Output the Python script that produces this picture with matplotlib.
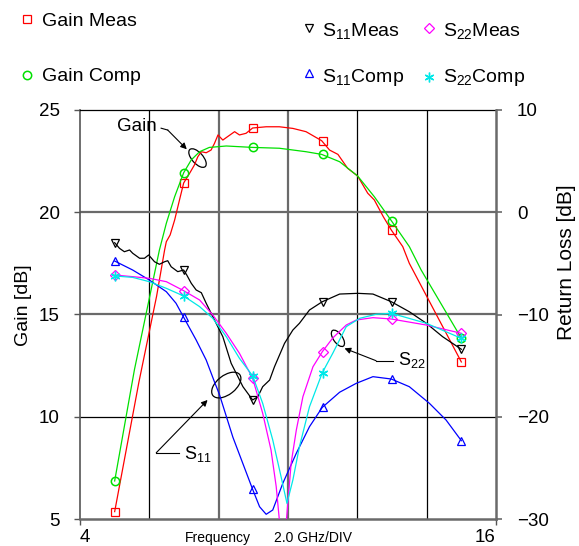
import matplotlib
matplotlib.use('Agg')
import matplotlib.pyplot as plt
from matplotlib.lines import Line2D
from matplotlib.patches import Ellipse
from matplotlib.transforms import ScaledTranslation

plt.rcParams['font.family'] = ['Liberation Sans', 'DejaVu Sans']
plt.rcParams['mathtext.default'] = 'regular'

# marker frequencies (GHz)
freq_marks = [5, 7, 9, 11, 13, 15]
gain_meas_marks = [5.36, 21.43, 24.12, 23.50, 19.13, 12.68]
gain_comp_marks = [6.86, 21.93, 23.17, 22.83, 19.59, 13.84]
s11_meas_marks = [-2.98, -5.65, -18.36, -8.75, -8.75, -13.4]
s11_comp_marks = [-4.77, -10.27, -27.1, -19.08, -16.31, -22.34]
s22_meas_marks = [-6.14, -7.67, -16.24, -13.64, -10.44, -11.84]
s22_comp_marks = [-6.23, -8.19, -16.0, -15.69, -9.88, -12.33]

# traced curves
gain_meas_f = [5.0, 5.70, 6.21, 6.44, 6.49, 6.60, 6.73, 6.87, 6.99, 7.16, 7.30, 7.40, 7.50,
               7.64, 7.78, 7.88, 7.98, 8.12, 8.26, 8.46, 8.60, 8.79, 8.98, 9.37, 9.75, 10.14,
               10.52, 10.97, 11.20, 11.44, 11.72, 12.01, 12.30, 12.49, 12.75, 12.98, 13.31,
               13.50, 15.0]
gain_meas = [5.36, 11.7, 15.9, 18.15, 18.56, 18.89, 19.62, 20.60, 21.43, 21.90, 22.31, 22.72,
             22.96, 22.91, 23.04, 23.37, 23.78, 23.53, 23.70, 23.94, 23.78, 23.86, 24.12, 24.18,
             24.18, 24.10, 23.94, 23.50, 23.04, 22.83, 22.15, 21.77, 20.93, 20.60, 19.78, 19.13,
             18.32, 17.5, 12.68]

gain_comp_f = [5.0, 5.57, 6.29, 6.49, 6.73, 6.99, 7.21, 7.45, 7.73, 8.22, 8.99, 9.75, 10.52,
               10.97, 11.49, 12.01, 12.49, 12.98, 13.50, 13.84, 15.0]
gain_comp = [6.86, 12.3, 18.15, 19.46, 20.76, 21.93, 22.56, 22.96, 23.17, 23.24, 23.17, 23.13,
             22.96, 22.83, 22.47, 21.77, 20.76, 19.59, 18.32, 17.18, 13.84]

s11_meas_f = [5.0, 5.14, 5.28, 5.43, 5.52, 5.72, 5.86, 5.98, 6.15, 6.29, 6.44, 6.53, 6.63,
              6.82, 6.99, 7.08, 7.21, 7.35, 7.50, 7.64, 7.88, 8.12, 8.36, 8.70, 8.98, 9.13,
              9.27, 9.47, 9.61, 9.90, 10.14, 10.33, 10.62, 10.99, 11.49, 12.01, 12.45, 12.98,
              13.50, 13.99, 14.46, 15.0]
s11_meas = [-2.98, -3.53, -3.86, -3.69, -4.01, -4.50, -4.50, -4.18, -4.84, -5.09, -4.84, -4.74,
            -5.33, -5.81, -5.65, -6.14, -6.95, -7.60, -7.87, -8.90, -10.54, -12.17, -14.77,
            -17.06, -18.36, -18.04, -17.06, -16.41, -15.11, -12.82, -11.52, -10.86, -9.56,
            -8.75, -8.0, -7.93, -8.0, -8.75, -9.73, -10.86, -12.17, -13.4]

s11_comp_f = [5.0, 5.52, 6.0, 6.49, 6.77, 6.99, 7.35, 7.64, 7.88, 8.02, 8.41, 8.98, 9.18, 9.37,
              9.56, 9.85, 10.24, 10.62, 10.99, 11.49, 11.97, 12.45, 12.98, 13.5, 14.08, 14.56,
              15.0]
s11_comp = [-4.77, -5.65, -6.63, -7.77, -8.9, -10.27, -12.49, -14.45, -16.6, -17.8, -22.0,
            -27.1, -28.8, -29.54, -29.12, -26.51, -23.57, -20.97, -19.08, -17.6, -16.73,
            -16.08, -16.31, -17.06, -18.69, -20.32, -22.34]

s22_meas_f = [5.0, 5.52, 6.0, 6.49, 6.99, 7.45, 7.83, 8.22, 8.60, 8.98, 9.27, 9.51, 9.66, 9.86,
              10.09, 10.24, 10.43, 10.72, 10.99, 11.29, 11.68, 11.97, 12.45, 12.98, 13.99, 15.0]
s22_meas = [-6.14, -6.30, -6.46, -6.79, -7.67, -8.58, -10.05, -11.84, -13.80, -16.24, -19.66,
            -23.25, -26.84, -34.0, -24.55, -21.30, -18.04, -15.11, -13.64, -12.3, -11.03,
            -10.54, -10.31, -10.44, -11.03, -11.84]

s22_comp_f = [5.0, 5.52, 6.0, 6.49, 6.99, 7.45, 7.83, 8.22, 8.60, 8.98, 9.27, 9.56, 9.80, 9.97,
              10.14, 10.33, 10.62, 10.99, 11.29, 11.68, 12.07, 12.54, 12.98, 13.99, 15.0]
s22_comp = [-6.23, -6.37, -6.79, -7.44, -8.19, -9.23, -10.37, -12.17, -14.29, -16.0, -18.69,
            -22.27, -25.86, -28.47, -26.19, -22.93, -19.02, -15.69, -13.8, -11.19, -10.37,
            -9.98, -9.88, -10.86, -12.33]

W, H = 579, 546
fig = plt.figure(figsize=(W / 100, H / 100), dpi=100)
ax = fig.add_axes([80 / W, 1 - 519 / H, (496 - 80) / W, (519 - 110) / H])
ax2 = ax.twinx()

ax.set_xlim(4, 16)
ax.set_ylim(5, 25)
ax2.set_ylim(-30, 10)

# grid
for x in [6, 12, 14]:
    ax.axvline(x, color='black', lw=0.9, zorder=0.5)
for x in [8, 10]:
    ax.axvline(x, color='#6a6a6a', lw=1.6, zorder=0.5)
ax.axhline(10, color='black', lw=0.9, zorder=0.5)
for y in [15, 20]:
    ax.axhline(y, color='#6a6a6a', lw=1.6, zorder=0.5)

# gain curves
lw = 0.9
ax.plot(gain_meas_f, gain_meas, color='#ff0000', lw=lw)
ax.plot(freq_marks, gain_meas_marks, ls='none', marker='s', ms=6, mfc='none', mec='#ff0000', mew=0.9)
ax.plot(gain_comp_f, gain_comp, color='#00e000', lw=lw)
ax.plot(freq_marks, gain_comp_marks, ls='none', marker='o', ms=6, mfc='none', mec='#00e000', mew=1.1)

# return loss curves
ax2.plot(s11_meas_f, s11_meas, color='black', lw=lw)
ax2.plot(freq_marks, s11_meas_marks, ls='none', marker='v', ms=6, mfc='none', mec='black', mew=0.9)
ax2.plot(s11_comp_f, s11_comp, color='#0000ff', lw=lw)
ax2.plot(freq_marks, s11_comp_marks, ls='none', marker='^', ms=6, mfc='none', mec='#0000ff', mew=0.9)
ax2.plot(s22_meas_f, s22_meas, color='#ff00ff', lw=lw)
ax2.plot(freq_marks, s22_meas_marks, ls='none', marker='D', ms=5, mfc='none', mec='#ff00ff', mew=0.9)
ax2.plot(s22_comp_f, s22_comp, color='#00e8e8', lw=lw)
ax2.plot(freq_marks, s22_comp_marks, ls='none', marker=(6, 2, 0), ms=7, mec='#00e8e8', mew=1.0)

# spines and ticks
for s in ['top', 'bottom', 'left']:
    ax2.spines[s].set_visible(False)
ax.spines['right'].set_visible(False)
ax.spines['top'].set_color('black')
ax.spines['top'].set_linewidth(0.9)
ax.spines['bottom'].set_color('#6a6a6a')
ax.spines['bottom'].set_linewidth(1.8)
ax.spines['left'].set_color('#555555')
ax.spines['left'].set_linewidth(1.2)
ax2.spines['right'].set_color('#6a6a6a')
ax2.spines['right'].set_linewidth(1.8)

ax.set_yticks([5, 10, 15, 20, 25])
ax.tick_params(axis='y', direction='out', length=4, width=1, color='#555555', pad=10.5, labelsize=13.5)
ax2.set_yticks([-30, -20, -10, 0, 10])
ax2.tick_params(axis='y', direction='out', length=4, width=1.2, color='#6a6a6a', pad=11, labelsize=13.5)
ax.set_xticks([4, 16])
ax.set_xticklabels(['4', '16'])
ax.tick_params(axis='x', length=4, width=1, color='#555555', pad=3, labelsize=13.5)
xl = ax.get_xticklabels()
xl[0].set_ha('left')
xl[1].set_ha('right')

# axis titles
fig.text(24 / W, 1 - 305 / H, 'Gain [dB]', rotation=90, ha='center', va='center', fontsize=14)
fig.text(567 / W, 1 - 262 / H, 'Return Loss [dB]', rotation=90, ha='center', va='center', fontsize=15)
fig.text(185 / W, 1 - 538 / H, 'Frequency', ha='left', va='center', fontsize=10)
fig.text(274 / W, 1 - 538 / H, '2.0 GHz/DIV', ha='left', va='center', fontsize=10)

# legend
def legend_item(mx, my, tx, ty, label, **mk):
    fig.add_artist(Line2D([mx / W], [1 - my / H], transform=fig.transFigure, ls='none', **mk))
    fig.text(tx / W, 1 - ty / H, label, ha='left', va='baseline', fontsize=14)

legend_item(27, 19, 42, 26, 'Gain Meas', marker='s', ms=6, mfc='none', mec='#ff0000', mew=0.9)
legend_item(27, 75, 42, 81, 'Gain Comp', marker='o', ms=6, mfc='none', mec='#00e000', mew=1.1)
legend_item(309, 28, 322, 36, 'S$_{11}$Meas', marker='v', ms=6, mfc='none', mec='black', mew=0.9)
legend_item(309, 73, 322, 82, 'S$_{11}$Comp', marker='^', ms=6, mfc='none', mec='#0000ff', mew=0.9)
legend_item(429, 28, 443, 36, 'S$_{22}$Meas', marker='D', ms=5, mfc='none', mec='#ff00ff', mew=0.9)
legend_item(429, 77, 443, 82, 'S$_{22}$Comp', marker=(6, 2, 0), ms=7, mec='#00e8e8', mew=1.0)

# annotations
def ring(axis, x, y, w, h, ang):
    e = Ellipse((0, 0), w / 100, h / 100, angle=ang, fill=False, ec='black', lw=0.9,
                transform=fig.dpi_scale_trans + ScaledTranslation(x, y, axis.transData))
    axis.add_artist(e)

arrow = dict(arrowstyle='-|>', color='black', lw=0.8, mutation_scale=9, shrinkA=0, shrinkB=0)

ax.text(5.63, 24.17, 'Gain', ha='center', va='center', fontsize=13.5)
ax.plot([6.34, 6.53], [24.11, 24.02], color='black', lw=0.8)
ax.annotate('', xy=(7.08, 23.08), xytext=(6.53, 24.02), arrowprops=arrow)
ring(ax, 7.39, 22.65, 23, 11, -48)

ax2.plot([6.87, 6.20], [-23.52, -23.52], color='black', lw=0.8)
ax2.annotate('', xy=(7.68, -18.36), xytext=(6.20, -23.52), arrowprops=arrow)
ax2.text(7.01, -23.6, 'S$_{11}$', ha='left', va='center', fontsize=13)
ring(ax2, 8.22, -16.9, 34, 19, 38)

ax2.plot([13.02, 12.54], [-14.52, -14.52], color='black', lw=0.8)
ax2.annotate('', xy=(11.63, -13.31), xytext=(12.54, -14.52), arrowprops=arrow)
ax2.text(13.16, -14.45, 'S$_{22}$', ha='left', va='center', fontsize=13)
ring(ax2, 11.44, -12.33, 19, 9, -55)

fig.savefig('out.png', dpi=100)
